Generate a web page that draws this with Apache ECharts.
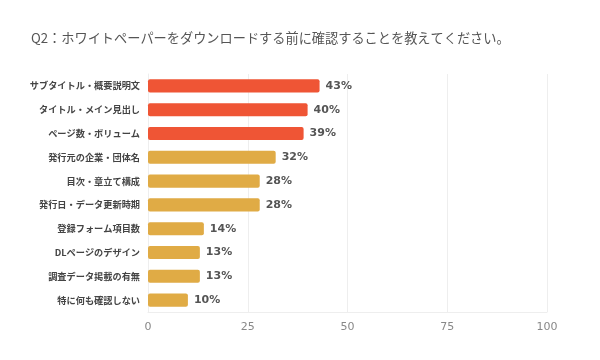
<!DOCTYPE html>
<html><head><meta charset="utf-8">
<script src="https://cdn.jsdelivr.net/npm/echarts@6/dist/echarts.min.js"></script>
<style>html,body{margin:0;padding:0;background:#fff}#c{width:600px;height:360px}</style>
</head><body><div id="c"></div>
<script>
const categories = ['サブタイトル・概要説明文','タイトル・メイン見出し','ページ数・ボリューム','発行元の企業・団体名','目次・章立て構成','発行日・データ更新時期','登録フォーム項目数','DLページのデザイン','調査データ掲載の有無','特に何も確認しない'];
const values = [43,40,39,32,28,28,14,13,13,10];
const highlightCount = 3;
const xTicks = [0,25,50,75,100];
const chart = echarts.init(document.getElementById('c'));
chart.setOption({
  animation:false,
  title:{text:'Q2：ホワイトペーパーをダウンロードする前に確認することを教えてください。',left:26,top:26,textStyle:{fontSize:13.2,fontWeight:'normal',color:'#555',fontFamily:'Noto Sans CJK JP'}},
  grid:{left:148,right:53,top:74,bottom:48,containLabel:false},
  xAxis:{type:'value',min:xTicks[0],max:xTicks[xTicks.length-1],interval:25,
    axisLine:{show:true,lineStyle:{color:'#eee'}},axisTick:{show:false},
    axisLabel:{color:'#888',fontSize:11,margin:10,fontFamily:'DejaVu Sans'},
    splitLine:{lineStyle:{color:'#eee'}}},
  yAxis:{type:'category',data:categories,inverse:true,
    axisLine:{show:true,lineStyle:{color:'#eee'}},axisTick:{show:false},
    axisLabel:{color:'#444',fontSize:9.2,fontWeight:'bold',margin:8,fontFamily:'Noto Sans CJK JP'}},
  series:[{type:'bar',barWidth:'55%',
    data:values.map((v,i)=>({value:v,itemStyle:{color:i<highlightCount?'#ef5535':'#e0ab45'}})),
    itemStyle:{borderRadius:2},
    label:{show:true,position:'right',distance:6,formatter:'{c}%',color:'#555',fontSize:11,fontWeight:'bold',fontFamily:'DejaVu Sans'}}]
});
</script></body></html>
